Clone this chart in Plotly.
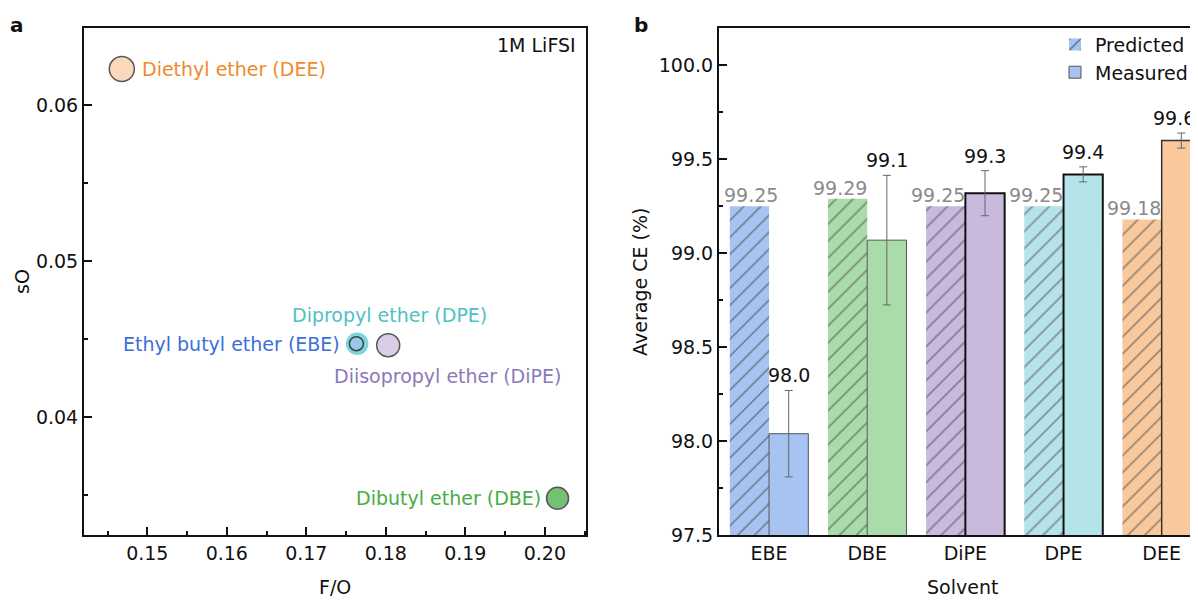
import numpy as np
import plotly.graph_objects as go

# ---------------- data ----------------
solvents = ["EBE", "DBE", "DiPE", "DPE", "DEE"]
solvent_names = ["Ethyl butyl ether (EBE)", "Dibutyl ether (DBE)",
                 "Diisopropyl ether (DiPE)", "Dipropyl ether (DPE)",
                 "Diethyl ether (DEE)"]
f_over_o = [0.1763, 0.2016, 0.1803, 0.1764, 0.1468]
s_o = [0.0447, 0.0348, 0.0446, 0.0447, 0.0623]
predicted_ce = [99.25, 99.29, 99.25, 99.25, 99.18]
measured_ce = [98.04, 99.07, 99.32, 99.42, 99.60]
measured_err = [0.23, 0.345, 0.12, 0.04, 0.04]
x_ticks_a = [0.15, 0.16, 0.17, 0.18, 0.19, 0.20]
y_ticks_a = [0.04, 0.05, 0.06]
y_ticks_b = [97.5, 98.0, 98.5, 99.0, 99.5, 100.0]

# ---------------- style ----------------
FONT = "DejaVu Sans"
bar_colors = ["#a6c3f2", "#aadcaa", "#c9b9dd", "#b5e3ea", "#f9c99d"]
label_colors = ["#3a70d8", "#46ad46", "#8c79b8", "#4fc1c5", "#ef8a2c"]
marker_fill = ["#a6c3f2", "#3aa83a", "#c9b9dd", "#4cc4c8", "#f9c99d"]
marker_size = [14, 22, 23, 21, 25]
marker_line = ["#111111", "#111111", "#111111", "#4cc4c8", "#111111"]
label_anchor = ["right", "right", "left", "left", "left"]
label_xshift = [-14, -15, -56, -67, 18]
label_yshift = [0, 0, -31, 29, 0]
meas_line_w = [1, 1, 2, 2, 1.5]
meas_line_c = ["#555555", "#555555", "#111111", "#111111", "#333333"]
pred_label_xshift = [2, -8, -8, -8, -8]
meas_label_xshift = [0, 0, 0, 0, -7]

# the page has an 8px body margin: size the figure to fit the window exactly
OFF = 8
W, H = 1198 - OFF, 609 - OFF
def px(x):
    return (x - OFF) / W
def py(y):
    return 1 - (y - OFF) / H

fig = go.Figure()

# ---------------- panel a ----------------
order = np.argsort(marker_size)[::-1]
fig.add_trace(go.Scatter(
    x=[f_over_o[i] for i in order], y=[s_o[i] for i in order],
    mode="markers", xaxis="x", yaxis="y", showlegend=False,
    marker=dict(color=[marker_fill[i] for i in order],
                size=[marker_size[i] for i in order],
                line=dict(color=[marker_line[i] for i in order], width=1.5)),
))

annotations = []
for i, name in enumerate(solvent_names):
    annotations.append(dict(
        x=f_over_o[i], y=s_o[i], xref="x", yref="y", text=name,
        showarrow=False, xanchor=label_anchor[i], yanchor="middle",
        xshift=label_xshift[i], yshift=label_yshift[i],
        font=dict(family=FONT, size=19, color=label_colors[i])))

annotations.append(dict(x=1, y=1, xref="x domain", yref="y domain",
                        text="1M LiFSI", showarrow=False, xanchor="right",
                        yanchor="top", xshift=-8, yshift=-4,
                        font=dict(family=FONT, size=19, color="#111")))

# ---------------- panel b ----------------
idx = np.arange(len(solvents))
fig.add_trace(go.Bar(
    x=idx - 0.2, y=predicted_ce, width=0.4, name="Predicted",
    xaxis="x2", yaxis="y2",
    marker=dict(color=bar_colors, line=dict(width=0),
                pattern=dict(shape="/", fgcolor="#000000", size=12,
                             solidity=0.15, fillmode="overlay")),
))
fig.add_trace(go.Bar(
    x=idx + 0.2, y=measured_ce, width=0.4, name="Measured",
    xaxis="x2", yaxis="y2",
    marker=dict(color=bar_colors, line=dict(width=meas_line_w, color=meas_line_c)),
    error_y=dict(type="data", array=measured_err, color="#666666",
                 thickness=1, width=4),
))

for i in idx:
    annotations.append(dict(
        x=i - 0.2, y=predicted_ce[i], xref="x2", yref="y2",
        text=f"{predicted_ce[i]:.2f}", showarrow=False, xanchor="center",
        yanchor="bottom", xshift=pred_label_xshift[i], yshift=-2,
        font=dict(family=FONT, size=19, color="#8a8a8a")))
    annotations.append(dict(
        x=i + 0.2, y=measured_ce[i] + measured_err[i], xref="x2", yref="y2",
        text=f"{measured_ce[i]:.1f}", showarrow=False, xanchor="center",
        yanchor="bottom", xshift=meas_label_xshift[i], yshift=2,
        font=dict(family=FONT, size=19, color="#111")))

# axis titles & panel letters (page pixel positions)
def centered(x, y, text, angle=0, size=19):
    return dict(x=px(x), y=py(y), xref="paper", yref="paper", text=text,
                textangle=angle, showarrow=False, xanchor="center",
                yanchor="middle", font=dict(family=FONT, size=size, color="#111"))

annotations += [
    centered(335, 598, "F/O"),
    centered(22, 287, "sO", angle=-90),
    centered(962, 598, "Solvent"),
    centered(640, 287, "Average CE (%)", angle=-90),
    centered(17, 25, "<b>a</b>", size=20),
    centered(641, 25, "<b>b</b>", size=20),
]

ydom = [py(545), py(28)]
axis_common = dict(showline=True, linewidth=2, linecolor="#111", showgrid=False,
                   zeroline=False, ticks="inside", tickwidth=1.5, ticklen=8,
                   tickcolor="#111", tickfont=dict(family=FONT, size=19, color="#111"))

fig.update_layout(
    width=W, height=H, margin=dict(l=0, r=0, t=0, b=0),
    paper_bgcolor="white", plot_bgcolor="white",
    font=dict(family=FONT, size=19, color="#111"),
    barmode="overlay",
    xaxis=dict(domain=[px(84), px(586)], range=[0.14204, 0.20518], anchor="y",
               tickvals=x_ticks_a, tickformat=".2f", mirror=True,
               minor=dict(ticks="inside", dtick=0.005, tick0=0.145, ticklen=4,
                          tickwidth=1.5, tickcolor="#111"),
               **axis_common),
    yaxis=dict(domain=ydom, range=[0.03243, 0.06495], anchor="x",
               tickvals=y_ticks_a, tickformat=".2f", mirror=True,
               minor=dict(ticks="inside", dtick=0.005, tick0=0.035, ticklen=4,
                          tickwidth=1.5, tickcolor="#111"),
               **axis_common),
    xaxis2=dict(domain=[px(719), 1.0], range=[-0.51, 4.37], anchor="y2",
                tickvals=list(idx), ticktext=solvents, mirror=True,
                showline=True, linewidth=2, linecolor="#111", showgrid=False,
                zeroline=False, ticks="",
                tickfont=dict(family=FONT, size=19, color="#111")),
    yaxis2=dict(domain=ydom, range=[97.5, 100.201], anchor="x2",
                tickvals=y_ticks_b, tickformat=".1f", mirror=False,
                minor=dict(ticks="inside", dtick=0.25, tick0=97.75, ticklen=4,
                           tickwidth=1.5, tickcolor="#111"),
                **axis_common),
    legend=dict(x=px(1055), y=py(26), xanchor="left", yanchor="top",
                bgcolor="rgba(0,0,0,0)", font=dict(family=FONT, size=19, color="#111"),
                tracegroupgap=0),
    annotations=annotations,
)

fig.write_html("out.html")
